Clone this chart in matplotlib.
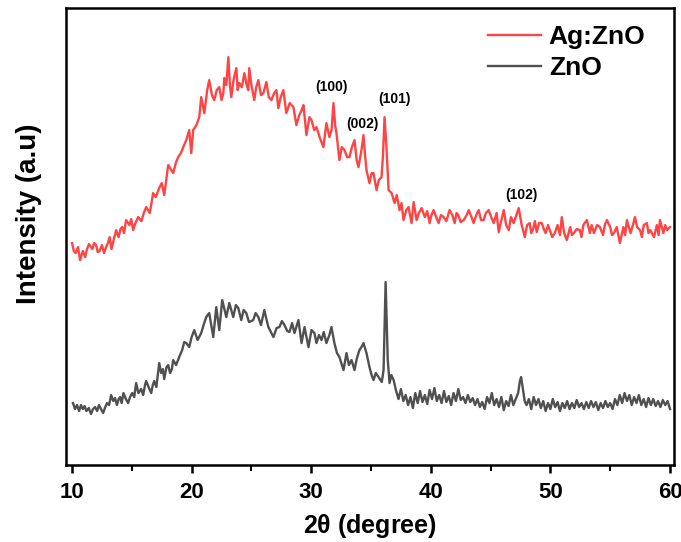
import matplotlib.pyplot as plt
from matplotlib.ticker import MultipleLocator

# XRD 数据 (2θ, 强度 a.u.)
agzno_theta = [10.00, 10.15, 10.30, 10.50, 10.67, 10.90, 11.10, 11.25, 11.42, 11.70, 11.85, 12.01,
               12.15, 12.30, 12.50, 12.68, 12.85, 13.00, 13.15, 13.30, 13.50, 13.69, 13.90, 14.05,
               14.20, 14.35, 14.52, 14.80, 14.95, 15.11, 15.30, 15.53, 15.80, 16.00, 16.20, 16.50,
               16.78, 17.00, 17.29, 17.50, 17.71, 18.04, 18.25, 18.46, 18.70, 18.88, 19.10, 19.30,
               19.55, 19.80, 19.97, 20.13, 20.40, 20.64, 20.80, 21.06, 21.30, 21.47, 21.70, 21.89,
               22.10, 22.31, 22.50, 22.65, 22.73, 22.90, 23.07, 23.20, 23.32, 23.50, 23.74, 23.85,
               23.99, 24.20, 24.41, 24.60, 24.74, 24.82, 25.00, 25.24, 25.40, 25.58, 25.80, 26.00,
               26.25, 26.45, 26.67, 26.90, 27.09, 27.25, 27.45, 27.67, 27.92, 28.20, 28.51, 28.76,
               29.00, 29.20, 29.35, 29.60, 29.85, 30.02, 30.25, 30.44, 30.70, 31.02, 31.27, 31.52,
               31.70, 31.86, 32.00, 32.11, 32.36, 32.55, 32.78, 33.00, 33.20, 33.40, 33.62, 33.80,
               33.95, 34.20, 34.37, 34.50, 34.62, 34.87, 35.05, 35.21, 35.46, 35.65, 35.88, 36.00,
               36.13, 36.28, 36.47, 36.72, 36.97, 37.15, 37.39, 37.55, 37.72, 37.95, 38.14, 38.39,
               38.56, 38.81, 39.00, 39.23, 39.50, 39.70, 39.90, 40.05, 40.23, 40.45, 40.65, 40.85,
               41.07, 41.30, 41.57, 41.80, 41.99, 42.15, 42.30, 42.50, 42.75, 43.00, 43.17, 43.40,
               43.58, 43.80, 44.00, 44.20, 44.42, 44.60, 44.84, 45.05, 45.26, 45.50, 45.68, 45.90,
               46.10, 46.30, 46.52, 46.70, 46.93, 47.15, 47.35, 47.60, 47.86, 48.05, 48.27, 48.40,
               48.55, 48.70, 48.86, 49.05, 49.28, 49.45, 49.60, 49.80, 49.95, 50.15, 50.37, 50.60,
               50.80, 50.95, 51.15, 51.37, 51.65, 51.80, 51.96, 52.20, 52.46, 52.60, 52.75, 53.05,
               53.30, 53.45, 53.64, 53.90, 54.14, 54.40, 54.55, 54.72, 55.00, 55.15, 55.31, 55.55,
               55.81, 56.10, 56.25, 56.40, 56.70, 56.90, 57.07, 57.25, 57.49, 57.65, 57.80, 58.07,
               58.20, 58.35, 58.66, 58.90, 59.05, 59.16, 59.45, 59.60, 59.75, 60.00]
agzno_int = [222, 214, 212, 218, 205, 214, 208, 216, 221, 216, 222, 220,
             213, 214, 220, 212, 218, 222, 228, 216, 226, 235, 228, 236,
             238, 232, 245, 240, 246, 235, 242, 248, 244, 252, 258, 252,
             272, 268, 277, 282, 270, 300, 296, 292, 303, 308, 312, 318,
             325, 335, 312, 335, 340, 348, 368, 352, 375, 385, 370, 365,
             375, 378, 365, 372, 387, 380, 408, 380, 368, 385, 397, 375,
             382, 378, 392, 380, 375, 397, 380, 365, 378, 385, 370, 372,
             383, 368, 365, 372, 375, 357, 368, 375, 352, 362, 358, 340,
             350, 355, 360, 330, 348, 345, 335, 338, 328, 318, 342, 328,
             335, 362, 340, 332, 305, 318, 315, 308, 308, 318, 325, 305,
             298, 315, 330, 310, 295, 282, 292, 292, 275, 285, 288, 310,
             348, 320, 275, 272, 262, 270, 255, 262, 245, 255, 258, 242,
             263, 245, 252, 257, 248, 254, 242, 250, 255, 248, 242, 250,
             248, 244, 255, 250, 242, 252, 250, 243, 245, 250, 255, 248,
             242, 250, 255, 245, 245, 252, 255, 248, 242, 252, 233, 245,
             255, 240, 235, 248, 242, 250, 257, 240, 228, 240, 242, 232,
             236, 244, 233, 242, 242, 236, 232, 240, 235, 228, 232, 240,
             230, 248, 232, 225, 238, 230, 232, 236, 235, 228, 240, 245,
             232, 240, 232, 240, 238, 230, 240, 245, 238, 230, 232, 238,
             222, 238, 230, 245, 232, 240, 248, 238, 235, 228, 240, 242,
             232, 235, 228, 240, 230, 245, 232, 240, 235, 238]

zno_theta = [10.08, 10.25, 10.42, 10.59, 10.75, 10.90, 11.05, 11.20, 11.40, 11.59, 11.75, 11.93,
             12.10, 12.25, 12.42, 12.60, 12.78, 12.93, 13.10, 13.27, 13.45, 13.60, 13.75, 13.90,
             14.02, 14.15, 14.30, 14.50, 14.69, 14.85, 15.03, 15.20, 15.36, 15.55, 15.78, 15.95,
             16.10, 16.20, 16.40, 16.62, 16.75, 16.87, 17.05, 17.29, 17.45, 17.60, 17.71, 17.90,
             18.04, 18.20, 18.35, 18.46, 18.70, 18.96, 19.21, 19.38, 19.55, 19.80, 20.00, 20.22,
             20.50, 20.80, 21.00, 21.22, 21.47, 21.81, 22.06, 22.31, 22.56, 22.90, 23.15, 23.48,
             23.70, 23.90, 24.15, 24.35, 24.57, 24.80, 25.15, 25.35, 25.58, 25.80, 26.08, 26.25,
             26.42, 26.84, 27.10, 27.34, 27.55, 27.76, 28.00, 28.18, 28.40, 28.60, 28.93, 29.19,
             29.44, 29.77, 30.02, 30.27, 30.44, 30.65, 30.86, 31.05, 31.27, 31.52, 31.69, 31.94,
             32.15, 32.36, 32.70, 32.95, 33.15, 33.37, 33.62, 33.80, 34.03, 34.20, 34.37, 34.62,
             34.87, 35.05, 35.21, 35.40, 35.63, 35.90, 36.05, 36.22, 36.40, 36.55, 36.70, 36.89,
             37.10, 37.30, 37.50, 37.70, 37.90, 38.10, 38.30, 38.50, 38.70, 38.90, 39.10, 39.30,
             39.50, 39.70, 39.90, 40.10, 40.30, 40.50, 40.70, 40.90, 41.10, 41.30, 41.50, 41.70,
             41.90, 42.10, 42.30, 42.50, 42.70, 42.90, 43.10, 43.30, 43.50, 43.70, 43.90, 44.10,
             44.30, 44.50, 44.70, 44.90, 45.10, 45.30, 45.50, 45.70, 45.90, 46.10, 46.30, 46.50,
             46.70, 46.90, 47.10, 47.30, 47.45, 47.55, 47.70, 47.85, 48.00, 48.20, 48.40, 48.60,
             48.80, 49.00, 49.20, 49.40, 49.60, 49.80, 50.00, 50.20, 50.40, 50.60, 50.80, 51.00,
             51.20, 51.40, 51.60, 51.80, 52.00, 52.20, 52.40, 52.60, 52.80, 53.00, 53.20, 53.40,
             53.60, 53.80, 54.00, 54.20, 54.40, 54.60, 54.80, 55.00, 55.20, 55.40, 55.60, 55.80,
             56.00, 56.20, 56.40, 56.60, 56.80, 57.00, 57.20, 57.40, 57.60, 57.80, 58.00, 58.20,
             58.40, 58.60, 58.80, 59.00, 59.20, 59.40, 59.60, 59.80, 60.00]
zno_int = [62, 56, 60, 54, 60, 56, 59, 54, 57, 51, 56, 58,
           54, 60, 56, 52, 58, 62, 60, 70, 64, 67, 60, 66,
           68, 62, 72, 66, 62, 68, 72, 68, 82, 72, 76, 70,
           80, 84, 78, 72, 80, 84, 78, 102, 92, 96, 86, 98,
           100, 92, 96, 105, 100, 108, 115, 123, 122, 118, 128, 135,
           125, 132, 140, 148, 152, 128, 158, 135, 165, 148, 162, 148,
           160, 157, 145, 155, 152, 143, 145, 152, 148, 140, 155, 146,
           138, 128, 137, 138, 144, 140, 134, 133, 142, 132, 145, 122,
           138, 118, 135, 132, 122, 130, 125, 133, 122, 130, 138, 122,
           112, 108, 95, 112, 100, 105, 95, 106, 115, 118, 122, 112,
           98, 90, 85, 92, 88, 83, 95, 183, 105, 82, 90, 85,
           74, 66, 76, 64, 70, 60, 68, 57, 72, 62, 74, 63,
           70, 61, 75, 66, 77, 64, 70, 62, 74, 63, 69, 60,
           72, 64, 76, 65, 68, 62, 70, 63, 67, 60, 66, 58,
           63, 56, 68, 62, 72, 60, 66, 58, 68, 55, 64, 59,
           70, 60, 66, 72, 84, 88, 76, 64, 60, 66, 56, 68,
           60, 66, 57, 64, 54, 62, 56, 66, 58, 63, 54, 62,
           57, 64, 56, 62, 57, 65, 58, 62, 56, 63, 57, 64,
           58, 63, 55, 62, 57, 64, 58, 62, 56, 66, 60, 70,
           62, 72, 64, 70, 60, 68, 62, 70, 60, 66, 58, 67,
           60, 66, 59, 64, 58, 65, 60, 64, 56]

peak_labels = ['(100)', '(002)', '(101)', '(102)']
peak_pos = [31.7, 34.25, 36.95, 47.55]
peak_text_y = [378, 341, 366, 270]

plt.rcParams['font.family'] = ['Liberation Sans', 'DejaVu Sans']

fig = plt.figure(figsize=(6.81, 5.42), dpi=100)
ax = fig.add_axes([0.097, 0.142, 0.893, 0.843])

ax.plot(agzno_theta, agzno_int, color='#ff4444', linewidth=1.7, label='Ag:ZnO')
ax.plot(zno_theta, zno_int, color='#505050', linewidth=1.7, label='ZnO')

for lab, xp, yp in zip(peak_labels, peak_pos, peak_text_y):
    ax.text(xp, yp, lab, fontsize=10, fontweight='bold', ha='center', va='center')

ax.set_xlim(9.5, 60.35)
ax.set_ylim(0, 457)
ax.set_yticks([])
ax.xaxis.set_major_locator(MultipleLocator(10))
ax.xaxis.set_minor_locator(MultipleLocator(5))
ax.tick_params(axis='x', which='major', direction='out', length=6, width=1.8, labelsize=16, pad=6)
ax.tick_params(axis='x', which='minor', direction='out', length=4, width=1.5)
for lab in ax.get_xticklabels():
    lab.set_fontweight('bold')
for sp in ax.spines.values():
    sp.set_linewidth(1.8)

ax.set_xlabel(r'2$\mathregular{\theta}$ (degree)', fontsize=18, fontweight='bold', labelpad=7)
ax.set_ylabel('Intensity (a.u)', fontsize=20, fontweight='bold')
ax.yaxis.set_label_coords(-0.04, 0.55)

ax.legend(loc='upper left', bbox_to_anchor=(0.694, 0.962), frameon=False,
          prop={'weight': 'bold', 'size': 19}, handlelength=2.0, handletextpad=0.3,
          labelspacing=0.25, borderaxespad=0, borderpad=0)

plt.savefig('out.png', dpi=100)
